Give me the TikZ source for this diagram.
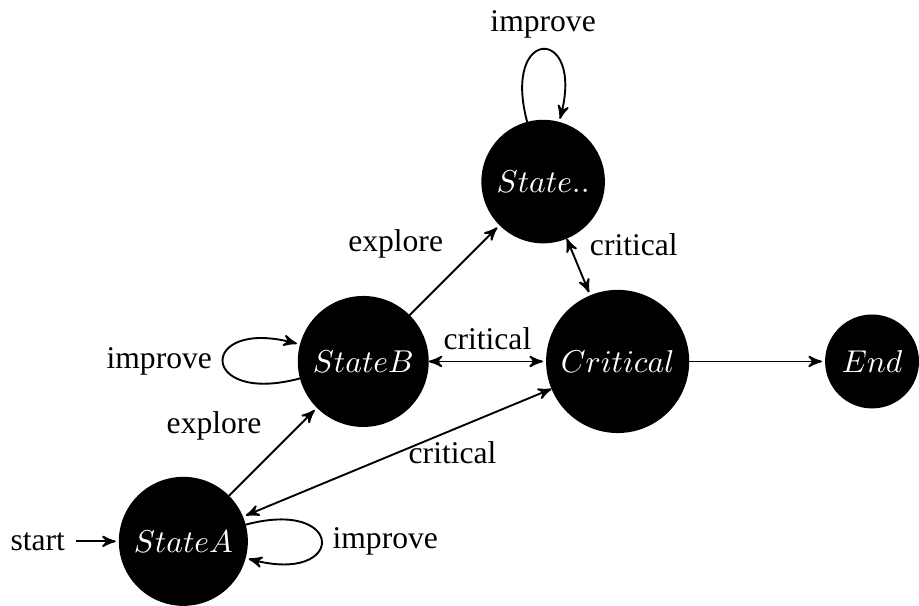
\documentclass[tikz,border=0pt]{standalone}
\usepackage{fontspec}
\setmainfont{Liberation Serif}
\usepackage{tikz}
\usetikzlibrary{arrows, positioning}

\begin{document}
\begin{tikzpicture}[
  >=stealth', node distance=2.83cm, on grid, auto, semithick,
  st/.style={circle, draw, fill=black, text=white},
  arr/.style={->, shorten >=1pt},
  dbl/.style={<->, shorten >=1pt},
]

\node[st] (sa) {$StateA$};
\node[st, above right=of sa] (sb) {$StateB$};
\node[st, above right=of sb] (sn) {$State..$};
\node[st, right=of sb] (crit) {$Critical$};
\node[st, right=of crit] (fin) {$End$};
\node[left=1.62cm of sa] (start) {start};

\draw[arr] (start) -- (sa);
\draw[arr] (sa) -- node{explore} (sb);
\draw[arr] (sb) -- node{explore} (sn);
\draw[arr] (sa) to[loop right] node{improve} ();
\draw[arr] (sb) to[loop left] node{improve} ();
\draw[arr] (sn) to[loop above] node{improve} ();
\draw[dbl] (sb) -- node{critical} (crit);
\draw[dbl] (sn) -- node{critical} (crit);
\draw[dbl] (crit) -- node[anchor=west]{critical} (sa);
\draw[arr] (crit) -- (fin);

\end{tikzpicture}
\end{document}
